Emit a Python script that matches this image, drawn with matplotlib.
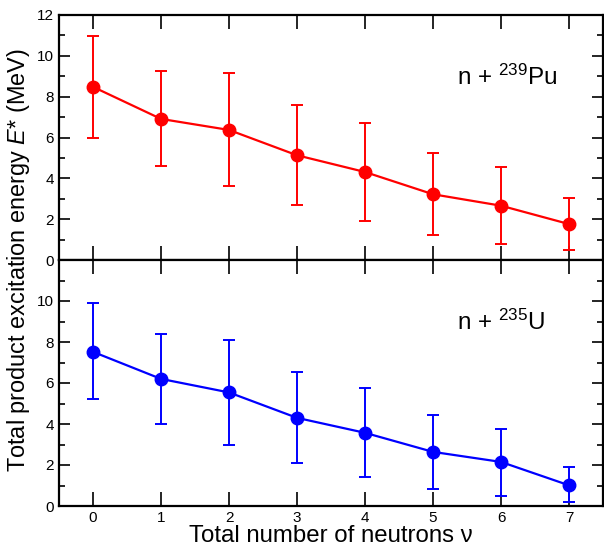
import matplotlib
matplotlib.use("Agg")
import matplotlib.pyplot as plt
from matplotlib.ticker import MultipleLocator

plt.rcParams['font.family'] = ['Liberation Sans', 'DejaVu Sans']
plt.rcParams['mathtext.fontset'] = 'custom'
plt.rcParams['mathtext.rm'] = 'Liberation Sans'
plt.rcParams['mathtext.it'] = 'Liberation Sans:italic'

# neutron multiplicity
nu = [0, 1, 2, 3, 4, 5, 6, 7]

# n + 239Pu
pu_E = [8.48, 6.91, 6.37, 5.13, 4.31, 3.22, 2.66, 1.76]
pu_hi = [10.95, 9.25, 9.17, 7.60, 6.73, 5.24, 4.56, 3.04]
pu_lo = [6.00, 4.62, 3.61, 2.70, 1.91, 1.21, 0.80, 0.49]

# n + 235U
u_E = [7.52, 6.20, 5.54, 4.30, 3.57, 2.64, 2.15, 1.01]
u_hi = [9.88, 8.40, 8.09, 6.56, 5.77, 4.43, 3.78, 1.88]
u_lo = [5.20, 3.99, 2.98, 2.10, 1.41, 0.85, 0.51, 0.19]

fig = plt.figure(figsize=(6.04, 5.47), dpi=100)
W, H = 604, 547
ax_top = fig.add_axes([59 / W, 1 - 260 / H, 544 / W, 245 / H])
ax_bot = fig.add_axes([59 / W, 1 - 506 / H, 544 / W, 246 / H], sharex=ax_top)

panels = [
    (ax_top, pu_E, pu_hi, pu_lo, 'red', r'n + $^{239}$Pu', 12),
    (ax_bot, u_E, u_hi, u_lo, 'blue', r'n + $^{235}$U', 10),
]

for ax, E, hi, lo, col, label, ymax_lab in panels:
    err = [[e - l for e, l in zip(E, lo)], [h - e for e, h in zip(E, hi)]]
    ax.errorbar(nu, E, yerr=err, color=col, marker='o', markersize=9,
                linewidth=1.6, elinewidth=1.4, capsize=4, capthick=1.4)
    ax.set_xlim(-0.5, 7.5)
    ax.xaxis.set_major_locator(MultipleLocator(1))
    ax.yaxis.set_minor_locator(MultipleLocator(1))
    ax.set_yticks(range(0, ymax_lab + 1, 2))
    ax.set_ylim(0, 12)
    ax.tick_params(which='both', direction='in', top=True, right=True,
                   labelsize=11, width=1.2)
    ax.tick_params(which='major', length=8)
    ax.tick_params(which='minor', length=4)
    ax.tick_params(axis='x', which='major', length=10)
    for s in ax.spines.values():
        s.set_linewidth(1.6)
    ax.text(0.732, 0.745, label, transform=ax.transAxes, fontsize=17.5,
            ha='left', va='center')

ax_top.tick_params(axis='x', labelbottom=False)
ax_bot.set_xlabel('Total number of neutrons ν', fontsize=17.3, labelpad=0)

fig.text(19 / W, 1 - 260 / H, r'Total product excitation energy $E$* (MeV)',
         rotation=90, ha='center', va='center', fontsize=16.9)

fig.savefig('out.png', dpi=100)
